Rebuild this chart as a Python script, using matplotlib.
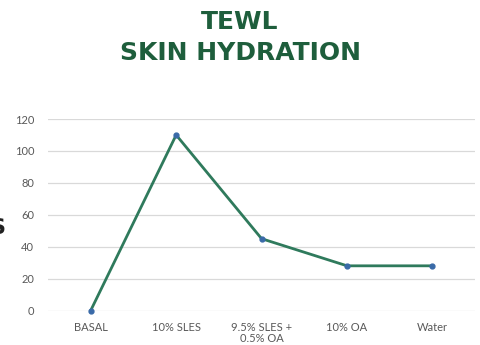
import matplotlib
matplotlib.use("Agg")
import matplotlib.pyplot as plt

# TEWL / skin hydration values per treatment
categories = ["BASAL", "10% SLES", "9.5% SLES +\n0.5% OA", "10% OA", "Water"]
values = [0, 110, 45, 28, 28]
yticks = [0, 20, 40, 60, 80, 100, 120]

title_color = "#1e5e3c"
line_color = "#2f7a5c"
marker_color = "#3a6aa8"
tick_color = "#595959"

fig = plt.figure(figsize=(4.8, 3.45), dpi=100)
ax = fig.add_axes([0.1, 0.1, 0.89, 0.555])

x = list(range(len(categories)))
ax.plot(x, values, color=line_color, linewidth=2, zorder=3, clip_on=False)
ax.plot(x, values, linestyle="none", marker="o", markersize=3.5,
        color=marker_color, zorder=4, clip_on=False)

ax.set_xlim(-0.5, len(categories) - 0.5)
ax.set_ylim(0, 120)
ax.set_yticks(yticks)
ax.set_xticks(x)
ax.set_xticklabels(categories, linespacing=1.0)
ax.grid(axis="y", color="#d9d9d9", linewidth=0.9)
ax.set_axisbelow(True)
for s in ax.spines.values():
    s.set_visible(False)
ax.tick_params(length=0, labelsize=8, labelcolor=tick_color)
ax.tick_params(axis="x", pad=8)
ax.tick_params(axis="y", pad=10)
for lbl in ax.get_xticklabels() + ax.get_yticklabels():
    lbl.set_family("Lato")

# title block
fig.text(0.5, 0.935, "TEWL", ha="center", va="center", fontsize=18,
         fontweight="bold", color=title_color, family="DejaVu Sans")
fig.text(0.5, 0.845, "SKIN HYDRATION", ha="center", va="center", fontsize=18,
         fontweight="bold", color=title_color, family="DejaVu Sans")

# clipped label at the left edge
fig.text(0.012, 0.34, "S", ha="right", va="center", fontsize=16,
         fontweight="bold", color="#222222")

fig.savefig("out.png", dpi=100)
